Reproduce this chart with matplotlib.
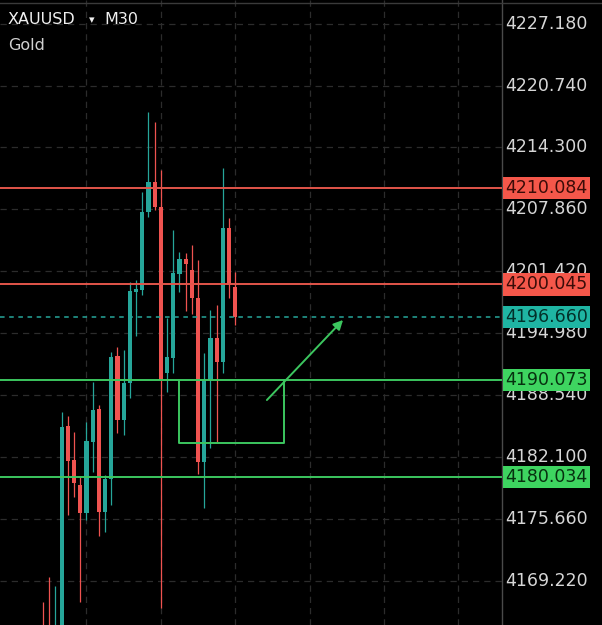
import numpy as np
import matplotlib
matplotlib.use('Agg')
import matplotlib.pyplot as plt
from matplotlib.lines import Line2D

# --- candle data (XAUUSD M30) ---
opens = [4164.2, 4164.0, 4161.5, 4162.0, 4185.32, 4181.78, 4179.18, 4176.27,
         4183.65, 4187.08, 4176.37, 4179.80, 4192.60, 4185.94, 4189.79, 4199.26,
         4199.47, 4207.59, 4210.71, 4208.11, 4190.83, 4192.39, 4201.13, 4202.70,
         4201.55, 4198.64, 4181.57, 4190.10, 4194.48, 4191.98, 4205.92, 4199.78]
highs = [4167.00, 4169.60, 4168.67, 4186.77, 4186.36, 4184.69, 4180.01, 4185.73,
         4189.89, 4187.50, 4180.22, 4193.02, 4193.54, 4193.23, 4200.30, 4200.51,
         4209.67, 4217.99, 4216.95, 4211.96, 4196.56, 4205.71, 4203.42, 4203.32,
         4204.15, 4202.59, 4192.91, 4197.39, 4197.91, 4212.17, 4206.96, 4201.34]
lows = [4161.0, 4160.5, 4160.8, 4161.0, 4176.06, 4177.93, 4167.00, 4175.54,
        4180.53, 4173.87, 4174.29, 4177.10, 4184.59, 4184.38, 4188.23, 4194.68,
        4198.95, 4207.07, 4207.79, 4166.38, 4188.85, 4190.83, 4199.26, 4197.28,
        4196.97, 4180.32, 4176.79, 4183.03, 4183.65, 4190.83, 4198.64, 4195.83]
closes = [4162.0, 4162.0, 4163.8, 4185.21, 4181.68, 4179.39, 4176.27, 4183.76,
          4186.98, 4176.37, 4179.80, 4192.50, 4185.94, 4189.79, 4199.37, 4199.57,
          4207.59, 4210.71, 4208.11, 4190.10, 4192.50, 4201.24, 4202.70, 4202.18,
          4198.64, 4181.57, 4190.10, 4194.48, 4191.98, 4205.92, 4199.99, 4196.66]

price_ticks = [4227.180, 4220.740, 4214.300, 4207.860, 4201.420,
               4194.980, 4188.540, 4182.100, 4175.660, 4169.220]
resistance = [4210.084, 4200.045]
support = [4190.073, 4180.034]
last_price = 4196.660

# drawn box and arrow (candle index / price)
box_x = (21.9, 38.9)
box_y = (4183.55, 4190.073)
arrow_from = (35.8, 4187.81)
arrow_to = (48.7, 4196.56)

bull = '#26a69a'
bear = '#ef5350'
red_line = '#e2554a'
green_line = '#3cc65f'
grid_c = '#2c2c2c'

fig = plt.figure(figsize=(6.02, 6.25), dpi=100, facecolor='black')
ax = fig.add_axes([0, 0, 502 / 602, 1])
ax.set_facecolor('black')

xs = np.arange(len(opens))
o = np.array(opens); c = np.array(closes)
h = np.array(highs); l = np.array(lows)
up = c >= o
cols = np.where(up, bull, bear)

# grid
for t in price_ticks:
    ax.axhline(t, color=grid_c, lw=0.9, ls=(0, (5, 4)), zorder=0)
for gx in [7, 19, 31, 43, 55, 67]:
    ax.axvline(gx, color=grid_c, lw=0.9, ls=(0, (5, 4)), zorder=0)

# candles
ax.vlines(xs, l, h, colors=cols, lw=0.9, zorder=2)
body_lo = np.minimum(o, c)
body_h = np.maximum(np.abs(c - o), 0.25)
ax.bar(xs, body_h, bottom=body_lo, width=0.68, color=cols, zorder=3)

# levels
for lvl in resistance:
    ax.axhline(lvl, color=red_line, lw=1.4, zorder=4)
for lvl in support:
    ax.axhline(lvl, color=green_line, lw=1.4, zorder=4)
ax.axhline(last_price, color=bull, lw=1.1, ls=(0, (3, 3)), zorder=4)

# user drawings
ax.plot([box_x[0], box_x[0], box_x[1], box_x[1]],
        [box_y[1], box_y[0], box_y[0], box_y[1]], color=green_line, lw=1.4, zorder=4)
ax.annotate('', xy=arrow_to, xytext=arrow_from,
            arrowprops=dict(arrowstyle='-|>', color=green_line, lw=1.4,
                            mutation_scale=14), zorder=5)

ax.set_xlim(-6.94, 74.03)
ax.set_ylim(4164.61, 4229.647)
ax.set_xticks([]); ax.set_yticks([])
for s in ['top', 'left', 'bottom']:
    ax.spines[s].set_visible(False)
ax.spines['right'].set_color('#4a4a4a')
ax.spines['right'].set_linewidth(1.0)

# price scale on the right
tr = ax.get_yaxis_transform()
for t in price_ticks:
    ax.text(1.007, t, '%.3f' % t, transform=tr, color='#d6d6d6', fontsize=12.5,
            va='center', ha='left', clip_on=False)

def price_tag(val, face, txt):
    ax.text(1.007, val, '%.3f' % val, transform=tr, color=txt, fontsize=12.5,
            va='center', ha='left', clip_on=False, zorder=10,
            bbox=dict(boxstyle='square,pad=0.12', fc=face, ec='none'))

price_tag(4210.084, '#f4574a', '#3a0c08')
price_tag(4200.045, '#f4574a', '#3a0c08')
price_tag(last_price, '#1fb5a3', '#03302a')
price_tag(4190.073, '#3ed460', '#07300f')
price_tag(4180.034, '#3ed460', '#07300f')

# top border line
fig.add_artist(Line2D([0, 1], [0.995, 0.995], color='#3a3a3a', lw=1.0))

# symbol header
fig.text(8 / 602, 1 - 20 / 625, 'XAUUSD', color='#f0f0f0', fontsize=11.5,
         va='center', ha='left')
fig.text(89 / 602, 1 - 20 / 625, '\u25be', color='#f0f0f0', fontsize=8,
         va='center', ha='left')
fig.text(104 / 602, 1 - 20 / 625, 'M30', color='#f0f0f0', fontsize=11.5,
         va='center', ha='left')
fig.text(8 / 602, 1 - 45 / 625, 'Gold', color='#d0d0d0', fontsize=11.5,
         va='center', ha='left')

fig.savefig('out.png', dpi=100, facecolor='black')
